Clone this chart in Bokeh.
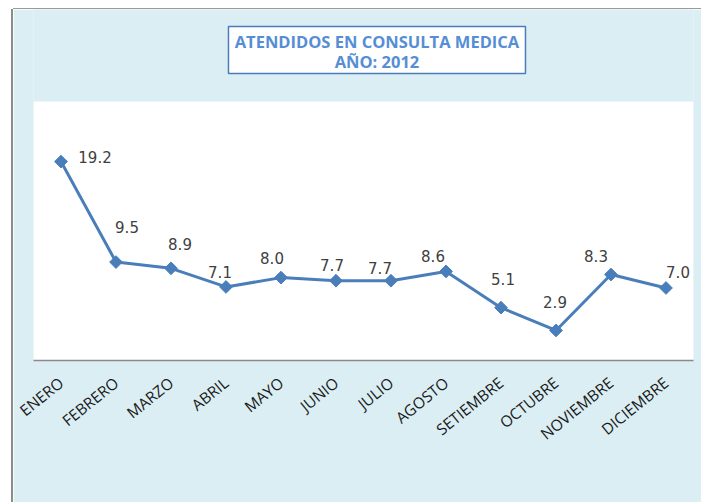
from bokeh.plotting import figure
from bokeh.models import ColumnDataSource, FactorRange, Range1d, BoxAnnotation, Label
from bokeh.core.properties import value
from bokeh.embed import file_html
from bokeh.resources import INLINE

# ---- data ----
months = ["ENERO", "FEBRERO", "MARZO", "ABRIL", "MAYO", "JUNIO", "JULIO",
          "AGOSTO", "SETIEMBRE", "OCTUBRE", "NOVIEMBRE", "DICIEMBRE"]
values = [19.2, 9.5, 8.9, 7.1, 8.0, 7.7, 7.7, 8.6, 5.1, 2.9, 8.3, 7.0]
value_labels = [f"{v:.1f}" for v in values]
y_max = 25  # top of the value area

# label offsets (style, screen pixels)
label_dx = [34, 11, 9, -6, -9, -4, -11, -13, 2, -1, -15, 12]
label_dy = [-5, -35, -24, -15, -20, -16, -13, -15, -29, -28, -19, -16]

title_line1 = "ATENDIDOS EN CONSULTA MEDICA"
title_line2 = "AÑO: 2012"

LINE = "#4A7EBB"
BG = "#DAEEF3"

# layout constants (pixels)
PX_PER_UNIT = 259 / y_max
TOP_SPACE = 92  # pixels above the value area

src = ColumnDataSource(dict(month=months, val=values, lab=value_labels,
                            dx=label_dx, dy=label_dy))

p = figure(width=688, height=493, x_range=FactorRange(*months),
           y_range=Range1d(0, y_max + TOP_SPACE / PX_PER_UNIT),
           output_backend="svg", toolbar_location=None, title=None,
           min_border_left=20, min_border_right=8, min_border_top=0,
           min_border_bottom=142)
p.margin = (9, 0, 0, 13)
p.styles = {"box-shadow": "-2px 0 0 #8c8c8c, 0 -1px 0 #9a9a9a"}

p.background_fill_color = BG
p.border_fill_color = BG
p.outline_line_color = None
p.xgrid.visible = False
p.ygrid.visible = False
p.yaxis.visible = False

# white value area
p.add_layout(BoxAnnotation(bottom=0, top=y_max, fill_color="white",
                           fill_alpha=1.0, line_color=None, level="underlay"))

ax = p.xaxis[0]
ax.axis_line_color = "#8a8a8a"
ax.axis_line_width = 1.5
ax.major_tick_line_color = None
ax.minor_tick_line_color = None
ax.major_label_orientation = 0.68
ax.major_label_standoff = 14
ax.major_label_text_font = "Open Sans"
ax.major_label_text_font_size = "15.5px"
ax.major_label_text_color = "#1a1a1a"

p.line(x="month", y="val", source=src, line_color=LINE, line_width=3)
p.scatter(x="month", y="val", source=src, marker="square", angle=0.785398,
          size=9, fill_color=LINE, line_color=LINE)
p.text(x="month", y="val", text="lab", source=src, x_offset="dx", y_offset="dy",
       text_align="center", text_baseline="middle",
       text_font=value("DejaVu Sans"), text_font_size="15px",
       text_color="#404040")

# title box (position in chart coordinates above the value area)
def up(px):
    return y_max + px / PX_PER_UNIT

p.add_layout(BoxAnnotation(left=3.545, right=8.945, top=up(75), bottom=up(28),
                           fill_color="white", fill_alpha=1.0,
                           line_color=LINE, line_width=1.5, line_alpha=1.0))
for txt, px in ((title_line1, 60), (title_line2, 40)):
    p.add_layout(Label(x=6.245, y=up(px), text=txt, text_align="center",
                       text_baseline="middle", text_font="Open Sans",
                       text_font_style="bold", text_font_size="16.5px",
                       text_color="#558ED5"))

open("out.html", "w").write(file_html(p, INLINE))
